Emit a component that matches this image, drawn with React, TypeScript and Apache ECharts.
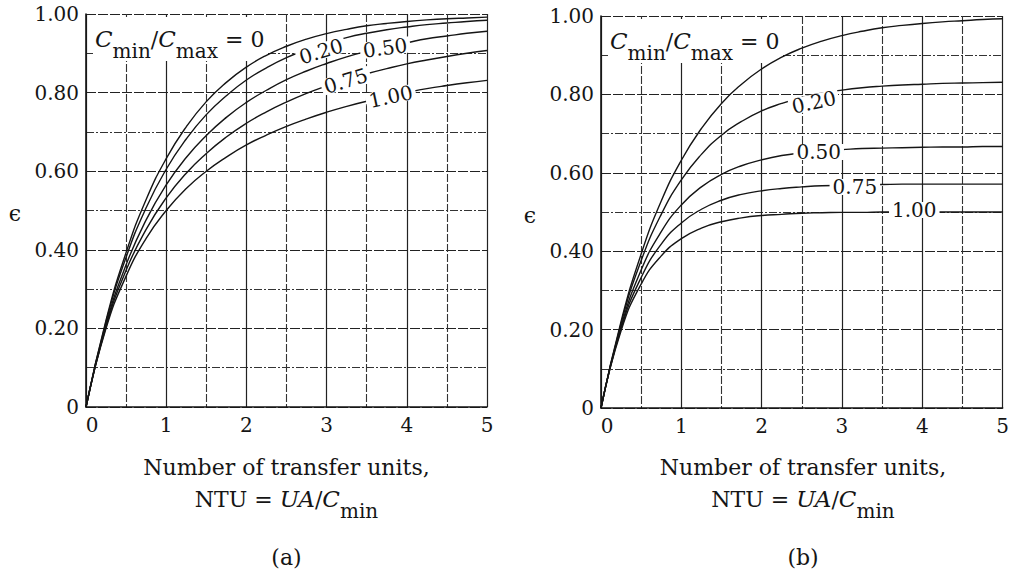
import React, { useEffect, useRef } from 'react';
import * as echarts from 'echarts';

// ---------- data ----------
const ntu = [0, 0.25, 0.5, 0.75, 1, 1.25, 1.5, 1.75, 2, 2.25, 2.5, 2.75, 3, 3.25, 3.5, 3.75, 4, 4.25, 4.5, 4.75, 5];
const xTickLabels = ['0', '1', '2', '3', '4', '5'];
const yTickLabels = ['0', '0.20', '0.40', '0.60', '0.80', '1.00'];
const ratioNames = ['0', '0.20', '0.50', '0.75', '1.00'];

// (a) counterflow
const counterC000 = [0, 0.221, 0.393, 0.528, 0.632, 0.713, 0.777, 0.826, 0.865, 0.895, 0.918, 0.936, 0.95, 0.961, 0.97, 0.976, 0.981, 0.985, 0.988, 0.99, 0.992];
const counterC020 = [0, 0.217, 0.381, 0.507, 0.605, 0.682, 0.744, 0.792, 0.832, 0.863, 0.889, 0.909, 0.926, 0.94, 0.951, 0.96, 0.967, 0.973, 0.977, 0.981, 0.984];
const counterC050 = [0, 0.21, 0.362, 0.476, 0.565, 0.635, 0.691, 0.737, 0.775, 0.806, 0.833, 0.855, 0.874, 0.891, 0.905, 0.917, 0.927, 0.937, 0.944, 0.951, 0.956];
const counterC075 = [0, 0.205, 0.348, 0.452, 0.532, 0.595, 0.645, 0.687, 0.722, 0.751, 0.776, 0.798, 0.817, 0.834, 0.848, 0.861, 0.873, 0.883, 0.892, 0.9, 0.907];
const counterC100 = [0, 0.2, 0.333, 0.429, 0.5, 0.556, 0.6, 0.636, 0.667, 0.692, 0.714, 0.733, 0.75, 0.765, 0.778, 0.789, 0.8, 0.81, 0.818, 0.825, 0.831];

// (b) parallel flow
const parallelC000 = [0, 0.221, 0.393, 0.528, 0.632, 0.713, 0.777, 0.826, 0.865, 0.895, 0.918, 0.936, 0.95, 0.961, 0.97, 0.976, 0.981, 0.985, 0.988, 0.991, 0.993];
const parallelC020 = [0, 0.216, 0.376, 0.494, 0.582, 0.647, 0.696, 0.731, 0.758, 0.777, 0.792, 0.803, 0.811, 0.817, 0.821, 0.824, 0.826, 0.828, 0.829, 0.83, 0.831];
const parallelC050 = [0, 0.208, 0.352, 0.45, 0.518, 0.564, 0.596, 0.618, 0.633, 0.644, 0.651, 0.656, 0.659, 0.662, 0.663, 0.664, 0.665, 0.666, 0.666, 0.667, 0.667];
const parallelC075 = [0, 0.203, 0.333, 0.418, 0.472, 0.507, 0.53, 0.545, 0.554, 0.56, 0.564, 0.567, 0.568, 0.569, 0.57, 0.571, 0.571, 0.571, 0.571, 0.571, 0.571];
const parallelC100 = [0, 0.197, 0.316, 0.388, 0.432, 0.459, 0.475, 0.485, 0.491, 0.494, 0.497, 0.498, 0.499, 0.499, 0.5, 0.5, 0.5, 0.5, 0.5, 0.5, 0.5];

// curve labels: text, NTU, epsilon, rotation (deg)
const labelTextA = ['0.20', '0.50', '0.75', '1.00'];
const labelNtuA = [2.93, 3.73, 3.24, 3.8];
const labelEpsA = [0.905, 0.914, 0.83, 0.79];
const labelRotA = [17, 8, 17, 12];

const labelTextB = ['0.20', '0.50', '0.75', '1.00'];
const labelNtuB = [2.65, 2.71, 3.16, 3.9];
const labelEpsB = [0.78, 0.653, 0.564, 0.505];
const labelRotB = [12, 0, 0, 0];

const FONT = '"DejaVu Serif", "Liberation Serif", serif';
const INK = '#151515';

const gridA = { left: 86, top: 14, width: 401, height: 393 };
const gridB = { left: 601, top: 16, width: 404, height: 392 };

function makeX(gridIndex: number) {
  return {
    type: 'value',
    gridIndex,
    min: 0,
    max: 5,
    interval: 1,
    axisLine: { show: true, lineStyle: { color: INK, width: 1.6 } },
    axisTick: { show: false },
    axisLabel: {
      color: INK,
      fontFamily: FONT,
      fontSize: 20,
      margin: 8,
      formatter: (v: number) => (v === 0 ? '{z|0}' : xTickLabels[Math.round(v)]),
      rich: { z: { padding: [0, 0, 0, 12], fontFamily: FONT, fontSize: 20, color: INK } },
    },
    splitLine: { show: true, lineStyle: { color: '#222222', width: 1.2 } },
    minorTick: { show: false, splitNumber: 2 },
    minorSplitLine: { show: true, lineStyle: { color: '#333333', width: 1.1, type: [8, 2] } },
  };
}

function makeY(gridIndex: number) {
  return {
    type: 'value',
    gridIndex,
    min: 0,
    max: 1,
    interval: 0.2,
    axisLine: { show: true, lineStyle: { color: INK, width: 1.6 } },
    axisTick: { show: false },
    axisLabel: {
      color: INK,
      fontFamily: FONT,
      fontSize: 20,
      margin: 7,
      formatter: (v: number) => yTickLabels[Math.round(v * 5)],
    },
    splitLine: { show: true, lineStyle: { color: '#222222', width: 1.2, type: [10, 2] } },
    minorTick: { show: false, splitNumber: 2 },
    minorSplitLine: { show: true, lineStyle: { color: '#333333', width: 1.1, type: [8, 2, 2, 2] } },
  };
}

function curve(name: string, idx: number, arr: number[]) {
  return {
    name,
    type: 'line',
    xAxisIndex: idx,
    yAxisIndex: idx,
    data: ntu.map((n, i) => [n, arr[i]]),
    smooth: 0.5,
    showSymbol: false,
    silent: true,
    lineStyle: { color: INK, width: 1.4 },
    z: 3,
  };
}

const mainRich = {
  i: { fontFamily: FONT, fontStyle: 'italic', fontSize: 23, lineHeight: 34, fill: INK },
  n: { fontFamily: FONT, fontSize: 22, lineHeight: 34, fill: INK },
  s: { fontFamily: FONT, fontSize: 20, padding: [24, 0, 0, 0], fill: INK },
};

export default function App() {
  const ref = useRef<HTMLDivElement>(null);
  useEffect(() => {
    if (!ref.current) return;
    const chart = echarts.init(ref.current, null, { renderer: 'svg' });
    const series = [
      curve(ratioNames[0], 0, counterC000),
      curve(ratioNames[1], 0, counterC020),
      curve(ratioNames[2], 0, counterC050),
      curve(ratioNames[3], 0, counterC075),
      curve(ratioNames[4], 0, counterC100),
      curve(ratioNames[0], 1, parallelC000),
      curve(ratioNames[1], 1, parallelC020),
      curve(ratioNames[2], 1, parallelC050),
      curve(ratioNames[3], 1, parallelC075),
      curve(ratioNames[4], 1, parallelC100),
    ];
    chart.setOption({
      animation: false,
      backgroundColor: '#ffffff',
      grid: [
        { ...gridA, containLabel: false },
        { ...gridB, containLabel: false },
      ],
      xAxis: [makeX(0), makeX(1)],
      yAxis: [makeY(0), makeY(1)],
      series,
    });

    const graphics: any[] = [];
    const addCurveLabels = (gi: number, texts: string[], xs: number[], ys: number[], rots: number[]) => {
      texts.forEach((t, i) => {
        const p = chart.convertToPixel({ gridIndex: gi }, [xs[i], ys[i]]) as number[];
        graphics.push({
          type: 'text',
          x: p[0],
          y: p[1],
          rotation: (rots[i] * Math.PI) / 180,
          z: 100,
          style: {
            text: t,
            fontFamily: FONT,
            fontSize: 20,
            lineHeight: 16,
            fill: INK,
            align: 'center',
            verticalAlign: 'middle',
            backgroundColor: '#ffffff',
            padding: [0, 3, 0, 3],
          },
        });
      });
    };
    addCurveLabels(0, labelTextA, labelNtuA, labelEpsA, labelRotA);
    addCurveLabels(1, labelTextB, labelNtuB, labelEpsB, labelRotB);

    const grids = [gridA, gridB];
    const letters = ['(a)', '(b)'];
    grids.forEach((g, gi) => {
      const cx = g.left + g.width / 2;
      // ratio label: above grid lines, below the curves
      graphics.push({
        type: 'text',
        x: g.left + 7,
        y: g.top + 3,
        z: 1,
        style: {
          text: '{i|C}{s|min}{n|/}{i|C}{s|max}{n| = 0}',
          rich: mainRich,
          align: 'left',
          verticalAlign: 'top',
          backgroundColor: '#ffffff',
          padding: [0, 2, 0, 2],
        },
      });
      graphics.push({
        type: 'text',
        x: g.left - 71,
        y: g.top + 199,
        z: 100,
        style: { text: '\u03F5', fontFamily: FONT, fontSize: 22, fill: INK, align: 'center', verticalAlign: 'middle' },
      });
      graphics.push({
        type: 'text',
        x: cx,
        y: 467,
        z: 100,
        style: { text: 'Number of transfer units,', fontFamily: FONT, fontSize: 22, fill: INK, align: 'center', verticalAlign: 'middle' },
      });
      graphics.push({
        type: 'text',
        x: cx,
        y: 477,
        z: 100,
        style: {
          text: '{n|NTU = }{i|UA}{n|/}{i|C}{s|min}',
          rich: mainRich,
          align: 'center',
          verticalAlign: 'top',
        },
      });
      graphics.push({
        type: 'text',
        x: cx,
        y: 557,
        z: 100,
        style: { text: letters[gi], fontFamily: FONT, fontSize: 22, fill: INK, align: 'center', verticalAlign: 'middle' },
      });
    });

    chart.setOption({ graphic: graphics });
    return () => chart.dispose();
  }, []);
  return (
    <div
      ref={ref}
      style={{ position: 'absolute', left: 0, top: 0, width: 1012, height: 574, background: '#fff' }}
    />
  );
}
